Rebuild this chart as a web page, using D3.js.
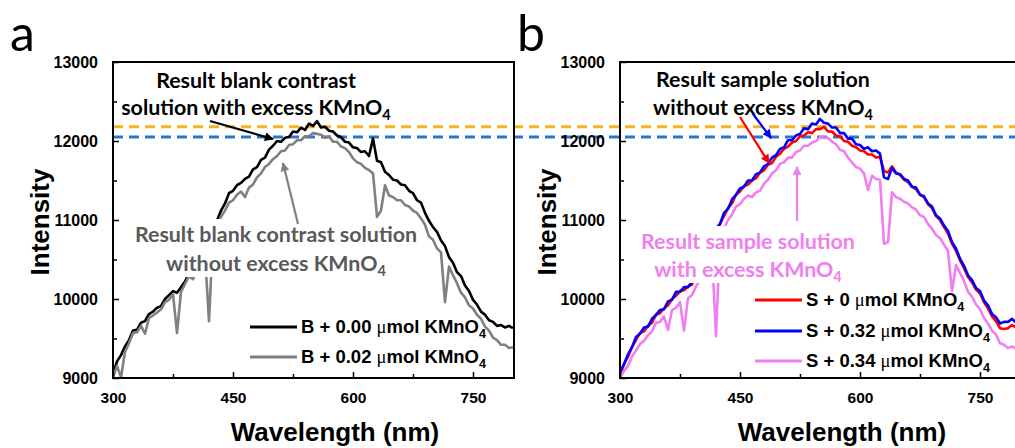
<!DOCTYPE html>
<html lang="en">
<head>
  <meta charset="UTF-8">
  <title>KMnO4 spectra</title>
  <style>
    body{ margin:0; background:#fff; }
    svg{ display:block; }
    .tick text{ font-family:"Liberation Sans", Arial, sans-serif; font-weight:bold; }
  </style>
</head>
<body>
  <svg id="chart" width="1015" height="448"></svg>
  <script src="https://cdn.jsdelivr.net/npm/d3@7/dist/d3.min.js"></script>
  <script>
    // wavelength grid (nm) shared by every spectrum
    const wavelengths = d3.range(300, 801, 5);

    // panel a: blank contrast
    const blank000 = [
      9050, 9210, 9290, 9400, 9480, 9600, 9610, 9700, 9720, 9810,
      9840, 9890, 9910, 10000, 10050, 10100, 10080, 10150, 10220, 10330,
      10400, 10510, 10590, 10710, 10790, 10920, 10990, 11120, 11210, 11340,
      11370, 11440, 11470, 11520, 11550, 11640, 11670, 11760, 11790, 11890,
      11940, 12000, 11990, 12040, 12050, 12120, 12110, 12170, 12140, 12220,
      12190, 12250, 12170, 12180, 12130, 12120, 12070, 12050, 11990, 11980,
      11920, 11910, 11860, 11870, 11810, 12030, 11750, 11730, 11610, 11570,
      11510, 11500, 11450, 11440, 11370, 11340, 11250, 11220, 11090, 10990,
      10910, 10850, 10740, 10670, 10530, 10460, 10340, 10290, 10170, 10100,
      9990, 9930, 9840, 9800, 9730, 9710, 9660, 9670, 9640, 9660,
      9630];
    const blank002 = [
      9010, 9150, 9010, 9330, 9440, 9570, 9580, 9660, 9560, 9760,
      9790, 9830, 9870, 9960, 9990, 10060, 9570, 10090, 10190, 10290,
      10250, 10360, 10440, 10560, 9720, 10810, 10910, 11040, 11120, 11220,
      11250, 11320, 11360, 11290, 11410, 11450, 11540, 11590, 11670, 11710,
      11770, 11810, 11870, 11880, 11950, 11960, 12010, 12010, 12060, 12060,
      12100, 12090, 12080, 12040, 12060, 11990, 11990, 11930, 11910, 11860,
      11780, 11730, 11710, 11660, 11630, 11590, 11040, 11120, 11440, 11310,
      11290, 11250, 11250, 11190, 11170, 11120, 11090, 11020, 10940, 10790,
      10750, 10640, 10590, 9960, 10410, 10300, 10200, 10080, 10020, 9920,
      9880, 9800, 9750, 9650, 9600, 9510, 9480, 9420, 9420, 9380,
      9390];

    // panel b: sample solution
    const sample000 = [
      9040, 9180, 9270, 9390, 9480, 9570, 9590, 9660, 9700, 9800,
      9820, 9880, 9920, 10000, 10040, 10100, 10110, 10160, 10180, 10320,
      10390, 10510, 10610, 10750, 10850, 10950, 11050, 11150, 11210, 11320,
      11360, 11430, 11450, 11500, 11530, 11600, 11630, 11700, 11720, 11800,
      11840, 11900, 11930, 11980, 12000, 12060, 12070, 12110, 12100, 12150,
      12150, 12180, 12120, 12120, 12070, 12060, 12000, 11990, 11940, 11920,
      11880, 11870, 11830, 11830, 11790, 11800, 11620, 11600, 11680, 11600,
      11570, 11510, 11480, 11420, 11390, 11320, 11290, 11200, 11150, 11050,
      11000, 10910, 10830, 10700, 10610, 10490, 10390, 10280, 10210, 10120,
      10070, 9960, 9880, 9780, 9720, 9630, 9620, 9630, 9670, 9640,
      9680];
    const sample032 = [
      9070, 9170, 9300, 9390, 9520, 9560, 9640, 9650, 9750, 9800,
      9860, 9870, 9970, 9990, 10090, 10090, 10150, 10150, 10220, 10320,
      10430, 10510, 10650, 10750, 10890, 10950, 11090, 11140, 11260, 11320,
      11400, 11420, 11500, 11500, 11580, 11600, 11680, 11710, 11790, 11820,
      11900, 11920, 12010, 12010, 12070, 12090, 12160, 12150, 12220, 12210,
      12280, 12230, 12220, 12170, 12170, 12100, 12100, 12030, 12030, 11960,
      11950, 11900, 11920, 11870, 11880, 11840, 11540, 11520, 11660, 11590,
      11580, 11520, 11500, 11420, 11410, 11320, 11300, 11210, 11170, 11060,
      11020, 10930, 10860, 10720, 10640, 10510, 10420, 10300, 10240, 10140,
      10100, 9980, 9920, 9810, 9770, 9690, 9710, 9710, 9750, 9700,
      9730];
    const sample034 = [
      9000, 9090, 9150, 9270, 9350, 9430, 9470, 9540, 9590, 9700,
      9710, 9780, 9610, 9860, 9890, 9960, 9600, 10010, 10050, 10160,
      10230, 10360, 10440, 10570, 9530, 10770, 10890, 11000, 11070, 11170,
      11200, 11270, 11310, 11290, 11350, 11370, 11460, 11510, 11590, 11630,
      11710, 11730, 11790, 11790, 11860, 11880, 11940, 11940, 11980, 12000,
      12050, 12040, 12040, 11990, 11960, 11890, 11870, 11790, 11730, 11670,
      11650, 11590, 11380, 11560, 11520, 11510, 10700, 10720, 11350, 11290,
      11270, 11230, 11210, 11160, 11130, 11060, 11040, 10950, 10890, 10810,
      10770, 10690, 10610, 10100, 10430, 10330, 10230, 10090, 10030, 9930,
      9870, 9760, 9690, 9600, 9550, 9440, 9420, 9380, 9400, 9370,
      9410];

    const xTicks = [300, 450, 600, 750];
    const xMinor = [375, 525, 675];
    const yTicks = [9000, 10000, 11000, 12000, 13000];
    const yMinor = [9500, 10500, 11500, 12500];
    const refLevels = [12180, 12050];     // dashed reference lines
    const refColors = ['#f5b31f', '#2e72d2'];

    const svg = d3.select('#chart');
    const plotTop = 62, plotBottom = 378, plotW = 401;
    const sans = '"Liberation Sans", Arial, sans-serif';
    const label = 'Lato, "Open Sans", sans-serif';
    const noteSize = 21.4;

    const y = d3.scaleLinear().domain([9000, 13000]).range([plotBottom, plotTop]);

    // arrow heads, one per colour
    const defs = svg.append('defs');
    ['black', '#808080', 'red', '#0000ff', '#f07ef0'].forEach((c, i) => {
      defs.append('marker')
        .attr('id', 'arr' + i)
        .attr('viewBox', '0 0 10 10')
        .attr('refX', 9).attr('refY', 5)
        .attr('markerWidth', 11).attr('markerHeight', 9)
        .attr('markerUnits', 'userSpaceOnUse')
        .attr('orient', 'auto')
        .append('path').attr('d', 'M0,0L10,5L0,10z').attr('fill', c);
    });

    // dashed reference levels run under both panels
    const refLayer = svg.append('g');
    refLayer.selectAll('line').data(refLevels).join('line')
      .attr('x1', 113).attr('x2', 1015)
      .attr('y1', d => y(d)).attr('y2', d => y(d))
      .attr('stroke', (d, i) => refColors[i])
      .attr('stroke-width', 3)
      .attr('stroke-dasharray', '10,6');

    function addKMnO4(t, prefix, muFirst){
      if(muFirst){
        t.append('tspan').text(prefix);
        t.append('tspan').attr('font-family', '"Liberation Serif", serif').attr('font-weight', 'normal').text('\u03bc');
        t.append('tspan').text('mol KMnO');
      } else {
        t.append('tspan').text(prefix + 'KMnO');
      }
      t.append('tspan').attr('dy', 5).attr('font-size', '0.68em').text('4');
    }

    function drawPanel(left, letter, series, clipId){
      const x = d3.scaleLinear().domain([300, 800]).range([left, left + plotW - 1]);
      const g = svg.append('g');

      defs.append('clipPath').attr('id', clipId)
        .append('rect').attr('x', left).attr('y', plotTop).attr('width', plotW).attr('height', plotBottom - plotTop);

      const line = d3.line().x((d, i) => x(wavelengths[i])).y(d => y(d));
      const curves = g.append('g').attr('clip-path', `url(#${clipId})`);
      series.forEach(s => {
        curves.append('path').datum(s.values)
          .attr('d', line)
          .attr('fill', 'none')
          .attr('stroke', s.color)
          .attr('stroke-width', 2.6)
          .attr('stroke-linejoin', 'round');
      });

      // frame
      g.append('rect').attr('x', left).attr('y', plotTop).attr('width', plotW).attr('height', plotBottom - plotTop)
        .attr('fill', 'none').attr('stroke', 'black').attr('stroke-width', 2);

      // axes, ticks pointing inward
      const xa = g.append('g').attr('transform', `translate(0,${plotBottom})`)
        .call(d3.axisBottom(x).tickValues(xTicks).tickSize(-6).tickPadding(14));
      g.append('g').attr('transform', `translate(0,${plotBottom})`)
        .call(d3.axisBottom(x).tickValues(xMinor).tickSize(-4).tickFormat(''));
      const ya = g.append('g').attr('transform', `translate(${left},0)`)
        .call(d3.axisLeft(y).tickValues(yTicks).tickSize(-6).tickPadding(15).tickFormat(d3.format('d')));
      g.append('g').attr('transform', `translate(${left},0)`)
        .call(d3.axisLeft(y).tickValues(yMinor).tickSize(-4).tickFormat(''));
      g.selectAll('.domain').remove();
      g.selectAll('.tick line').attr('stroke', 'black').attr('stroke-width', 1.5);
      xa.selectAll('.tick text').attr('font-size', 15.5).attr('fill', 'black');
      ya.selectAll('.tick text').attr('font-size', 16).attr('fill', 'black');

      // axis titles
      g.append('text').attr('x', left + 222).attr('y', 441)
        .attr('text-anchor', 'middle').attr('font-family', sans).attr('font-weight', 'bold')
        .attr('font-size', 26).text('Wavelength (nm)');
      g.append('text').attr('transform', `translate(${left - 64},${(plotTop + plotBottom) / 2 + 2}) rotate(-90)`)
        .attr('text-anchor', 'middle').attr('font-family', sans).attr('font-weight', 'bold')
        .attr('font-size', 26).text('Intensity');

      // panel letter
      svg.append('text').attr('x', left - 103).attr('y', 51)
        .attr('font-family', label).attr('font-size', 50).text(letter);

      // legend
      series.forEach(s => {
        const ly = s.legendY;
        g.append('line').attr('x1', s.legendX).attr('x2', s.legendX + 47)
          .attr('y1', ly).attr('y2', ly).attr('stroke', s.color).attr('stroke-width', 3);
        const t = g.append('text').attr('x', s.legendX + 51).attr('y', ly + 6)
          .attr('font-family', sans).attr('font-weight', 'bold').attr('font-size', 18.5);
        addKMnO4(t, s.name + ' ', true);
      });
      return {g, x};
    }

    const pa = drawPanel(113, 'a', [
      {name: 'B + 0.00', values: blank000, color: 'black', legendX: 250, legendY: 327},
      {name: 'B + 0.02', values: blank002, color: '#808080', legendX: 250, legendY: 357}
    ], 'clipA');

    const pb = drawPanel(620, 'b', [
      {name: 'S + 0', values: sample000, color: 'red', legendX: 755, legendY: 300},
      {name: 'S + 0.32', values: sample032, color: '#0000ff', legendX: 755, legendY: 331},
      {name: 'S + 0.34', values: sample034, color: '#f07ef0', legendX: 755, legendY: 361}
    ], 'clipB');

    function note(g, cx, y1, y2, line1, line2, color, boxed){
      const box = boxed ? g.append('rect').attr('fill', 'white') : null;
      const t1 = g.append('text').attr('x', cx).attr('y', y1).attr('text-anchor', 'middle')
        .attr('font-family', label).attr('font-weight', 'bold').attr('font-size', noteSize)
        .attr('fill', color).text(line1);
      const t2 = g.append('text').attr('x', cx).attr('y', y2).attr('text-anchor', 'middle')
        .attr('font-family', label).attr('font-weight', 'bold').attr('font-size', noteSize)
        .attr('fill', color);
      addKMnO4(t2, line2, false);
      if(box){
        // white backing box hides the curve under the text
        const b1 = t1.node().getBBox(), b2 = t2.node().getBBox();
        const x0 = Math.min(b1.x, b2.x) - 3, x1 = Math.max(b1.x + b1.width, b2.x + b2.width) + 3;
        box.attr('x', x0).attr('y', b1.y - 2).attr('width', x1 - x0).attr('height', b2.y + b2.height - b1.y);
      }
    }
    function arrow(g, x1, y1, x2, y2, color, m){
      g.append('line').attr('x1', x1).attr('y1', y1).attr('x2', x2).attr('y2', y2)
        .attr('stroke', color).attr('stroke-width', 2.2).attr('marker-end', `url(#arr${m})`);
    }

    note(pa.g, 276, 242, 271, 'Result blank contrast solution', 'without excess ', '#595959', true);
    note(pa.g, 256, 88, 115, 'Result blank contrast', 'solution with excess ', 'black', false);
    arrow(pa.g, 210, 121, 273, 139, 'black', 0);
    arrow(pa.g, 298, 224, 283, 163, '#808080', 1);

    note(pb.g, 748, 249, 277, 'Result sample solution', 'with excess ', '#f07ef0', true);
    note(pb.g, 763, 87, 115, 'Result sample solution', 'without excess ', 'black', false);
    arrow(pb.g, 740, 117, 769, 163, 'red', 2);
    arrow(pb.g, 753, 114, 771, 138, '#0000ff', 3);
    arrow(pb.g, 797, 221, 797, 167, '#f07ef0', 4);
  </script>
</body>
</html>
